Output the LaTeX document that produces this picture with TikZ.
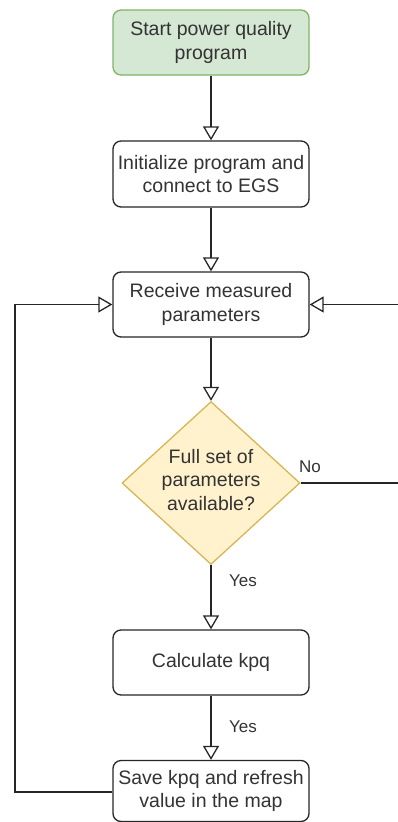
\documentclass[tikz,border=0pt]{standalone}
\usepackage{fontspec}
\setmainfont{Liberation Sans}
\usetikzlibrary{shapes.geometric,arrows.meta}
\definecolor{txt}{HTML}{333333}
\definecolor{startfill}{HTML}{D5E8D4}
\definecolor{startline}{HTML}{82B366}
\definecolor{decfill}{HTML}{FFF2CC}
\definecolor{decline}{HTML}{D6B656}
\tikzset{
  box/.style={draw=black!85, line width=1.3pt, rounded corners=8pt, fill=white,
    minimum width=196pt, inner sep=0pt, align=center, text=txt,
    font=\fontsize{19.5}{23.5}\selectfont},
  startbox/.style={box, fill=startfill, draw=startline},
  decbox/.style={diamond, draw=decline, fill=decfill, line width=1.3pt,
    minimum width=178pt, minimum height=163pt, inner sep=0pt},
  lbl/.style={text=txt, font=\fontsize{17}{20}\selectfont, inner sep=0pt},
  flow/.style={draw=black!85, line width=1.3pt,
    -{Triangle[open, length=14pt, width=16pt, line width=1.3pt]}},
  plain/.style={draw=black!85, line width=1.3pt}
}
\begin{document}
\begin{tikzpicture}[x=1pt,y=1pt]
  \useasboundingbox (0,0) rectangle (398,-822);

  \node[startbox, minimum height=65pt] (start) at (211,-42.5) {Start power quality\\program};
  \node[box, minimum height=66pt] (init) at (211,-174) {Initialize program and\\connect to EGS};
  \node[box, minimum height=65pt] (recv) at (211,-304.5) {Receive measured\\parameters};
  \node[decbox] (dec) at (211,-483) {};
  \node[text=txt, align=center, inner sep=0pt, font=\fontsize{19.5}{23.5}\selectfont]
    (dectext) at (211,-480) {Full set of\\parameters\\available?};
  \node[box, minimum height=65pt] (calc) at (211,-662.5) {Calculate kpq};
  \node[box, minimum height=61pt] (save) at (211,-791) {Save kpq and refresh\\value in the map};

  % the "No" loop runs along the right edge of the page
  \coordinate (rtop) at (399.5,-304.5);
  \coordinate (rbot) at (399.5,-483);
  \coordinate (ltop) at (15,-304.5);
  \coordinate (lbot) at (15,-792);

  \draw[flow] (start) -- (init);
  \draw[flow] (init) -- (recv);
  \draw[flow] (recv) -- (dec);
  \draw[flow] (dec) -- (calc);
  \draw[flow] (calc) -- (save);
  \draw[flow] (dec.east) -- (rbot) -- (rtop) -- (recv.east);
  \draw[flow] (save.west |- lbot) -- (lbot) -- (ltop) -- (recv.west);

  \node[lbl] (no) at (310,-467) {No};
  \node[lbl] (yes1) at (243,-581) {Yes};
  \node[lbl] (yes2) at (243,-727) {Yes};
\end{tikzpicture}
\end{document}
